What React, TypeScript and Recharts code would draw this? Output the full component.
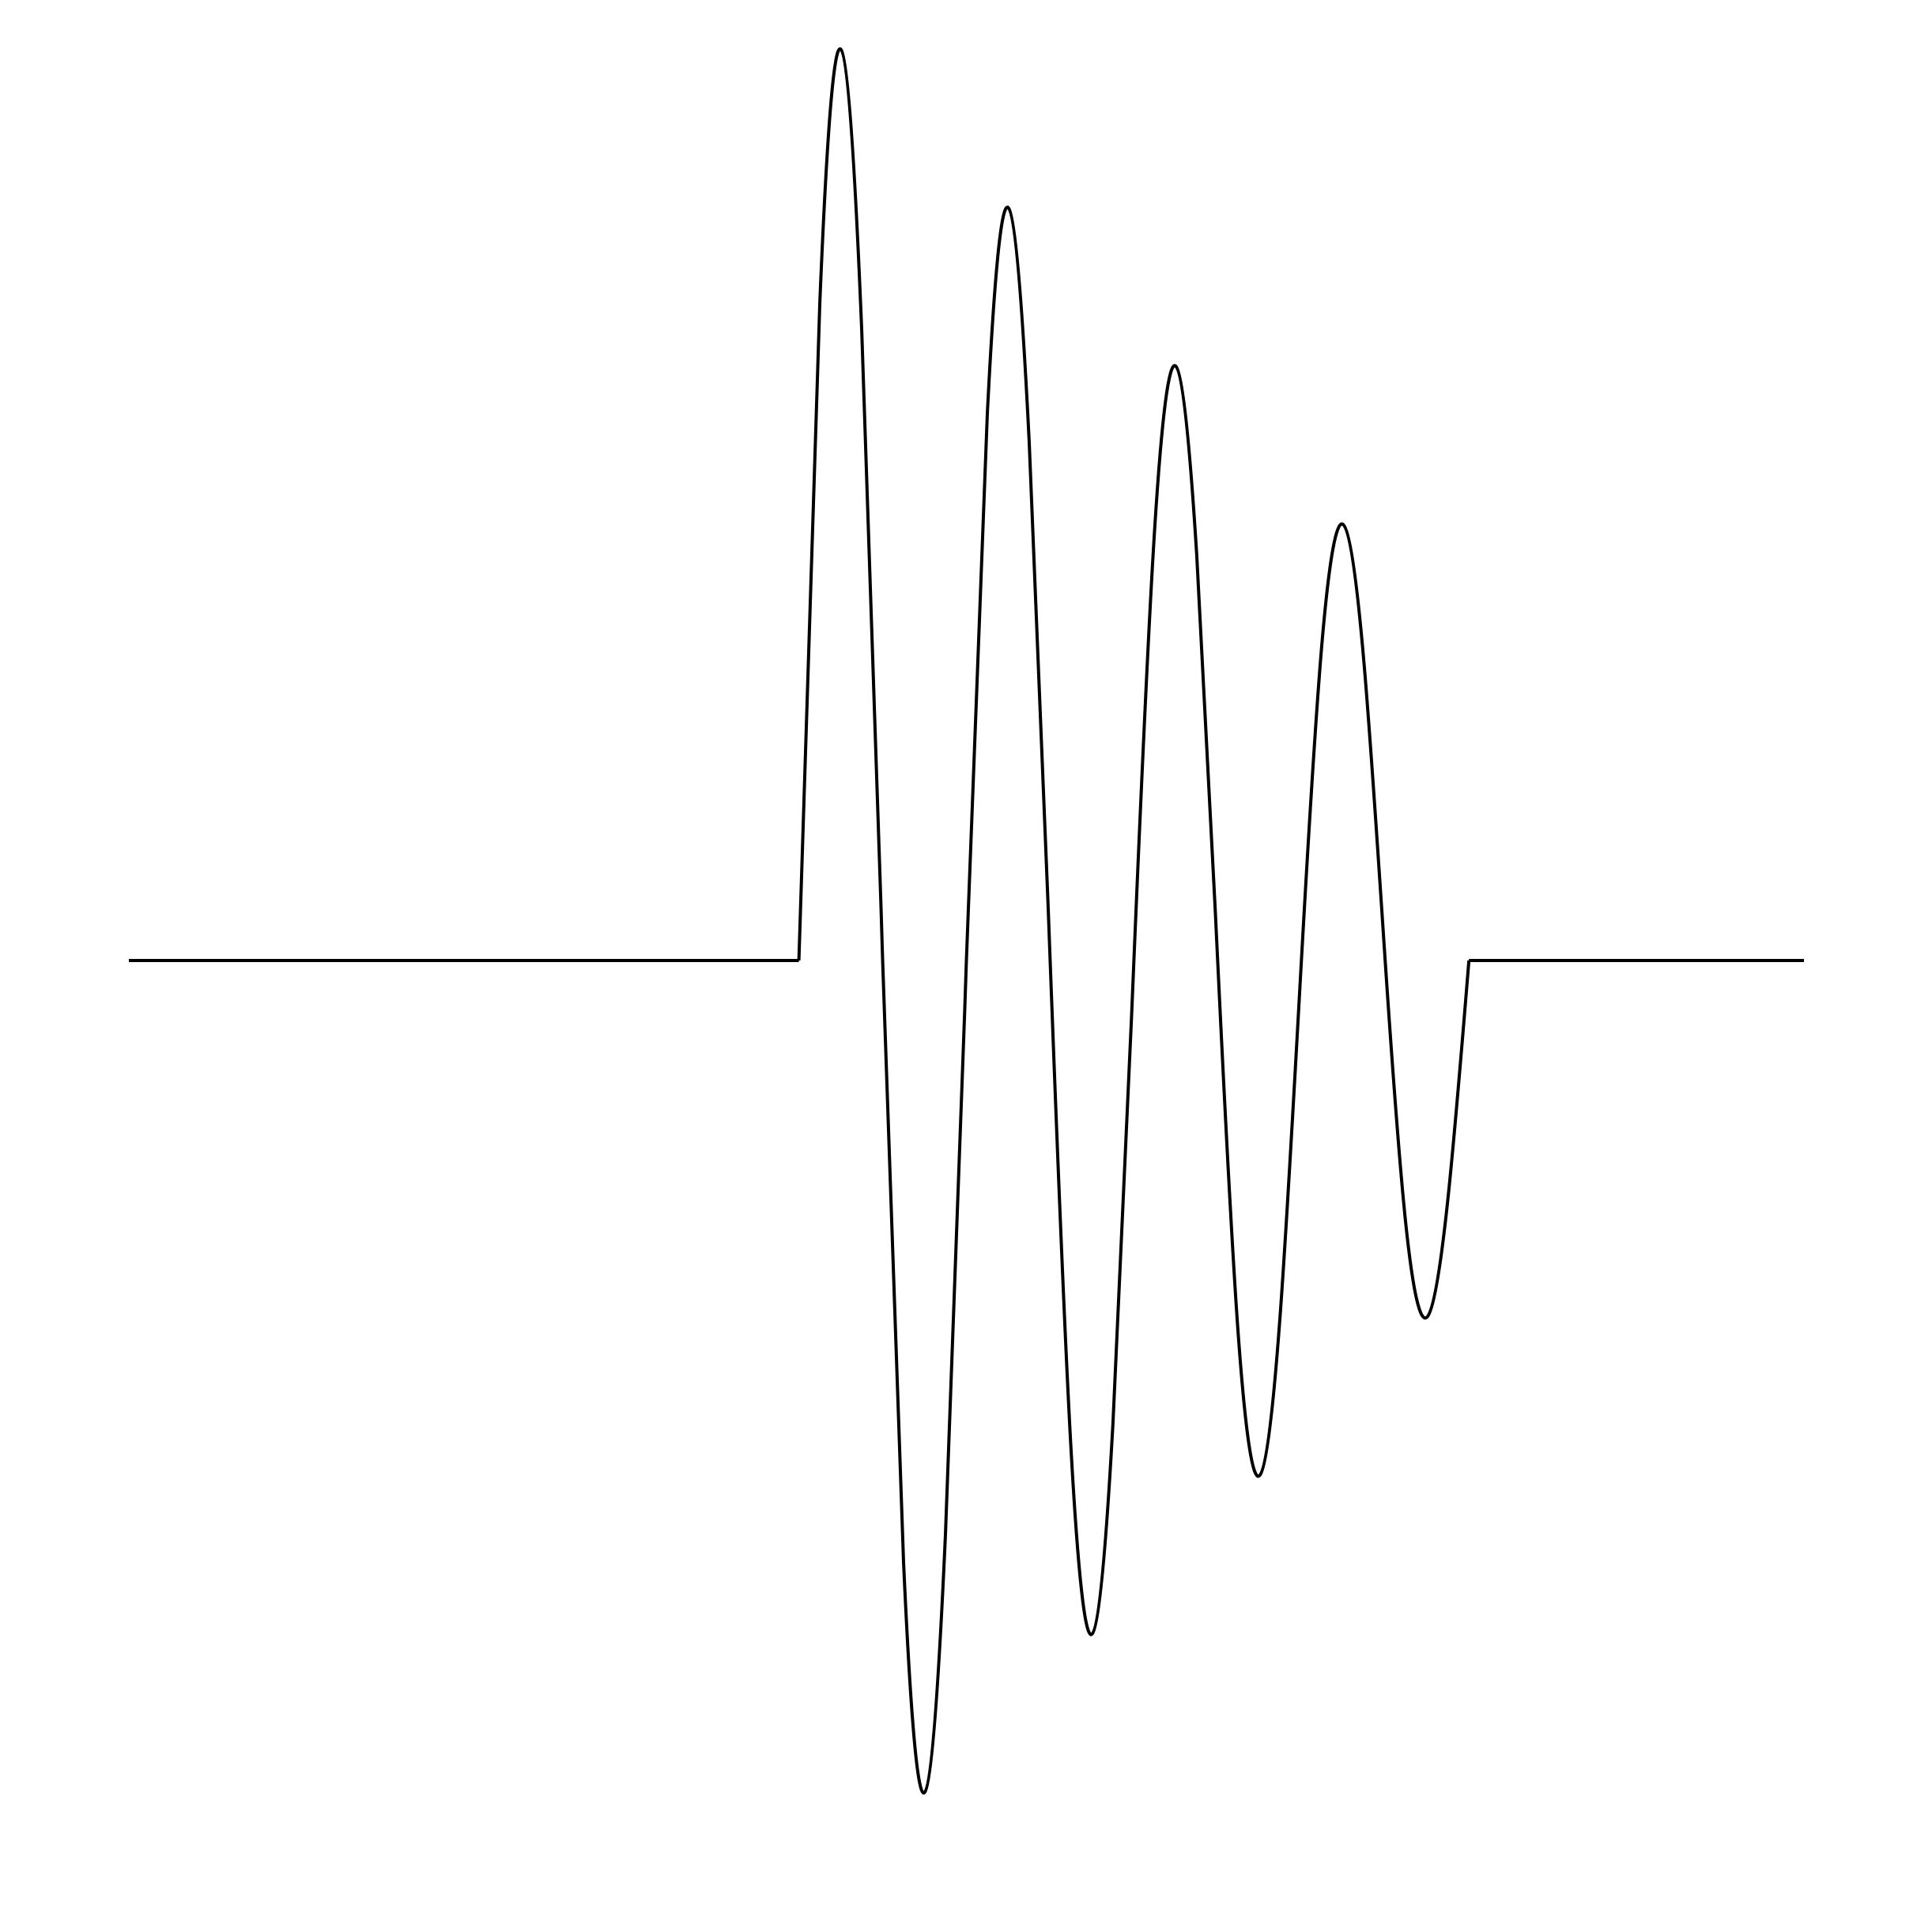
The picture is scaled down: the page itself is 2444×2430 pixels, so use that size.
import { Line, LineChart, XAxis, YAxis } from "recharts";

// flat baseline before and after the burst
const flatX = [0, 4, 8, 10];

// burst samples, every eighth of a period
const waveX = [
  4, 4.125, 4.25, 4.375, 4.5, 4.625, 4.75, 4.875,
  5, 5.125, 5.25, 5.375, 5.5, 5.625, 5.75, 5.875,
  6, 6.125, 6.25, 6.375, 6.5, 6.625, 6.75, 6.875,
  7, 7.125, 7.25, 7.375, 7.5, 7.625, 7.75, 7.875,
  8,
];
const waveY = [
  0, 4.15, 5.75, 3.98, 0, -3.8, -5.25, -3.62,
  0, 3.45, 4.75, 3.27, 0, -3.09, -4.25, -2.92,
  0, 2.74, 3.75, 2.56, 0, -2.39, -3.25, -2.21,
  0, 2.03, 2.75, 1.86, 0, -1.68, -2.25, -1.5,
  0,
];

type Row = { x: number; flat: number | null; wave: number | null };

const rows: Row[] = [];
const xs = Array.from(new Set([...flatX, ...waveX])).sort((a, b) => a - b);
for (const x of xs) {
  const wi = waveX.indexOf(x);
  rows.push({
    x,
    flat: flatX.includes(x) ? 0 : null,
    wave: wi >= 0 ? waveY[wi] : null,
  });
}

export default function App() {
  return (
    <div style={{ width: 2444, height: 2430, background: "#fff" }}>
      <style>{`body{margin:0}`}</style>
      <LineChart
        width={2444}
        height={2430}
        data={rows}
        margin={{ top: 12, right: 162, left: 163, bottom: 12 }}
      >
        <XAxis dataKey="x" type="number" domain={[0, 10]} hide />
        <YAxis type="number" domain={[-6, 6]} hide />
        <Line
          dataKey="flat"
          type="linear"
          stroke="#000"
          strokeWidth={4}
          dot={false}
          isAnimationActive={false}
        />
        <Line
          dataKey="wave"
          type="natural"
          stroke="#000"
          strokeWidth={4}
          dot={false}
          isAnimationActive={false}
        />
      </LineChart>
    </div>
  );
}
